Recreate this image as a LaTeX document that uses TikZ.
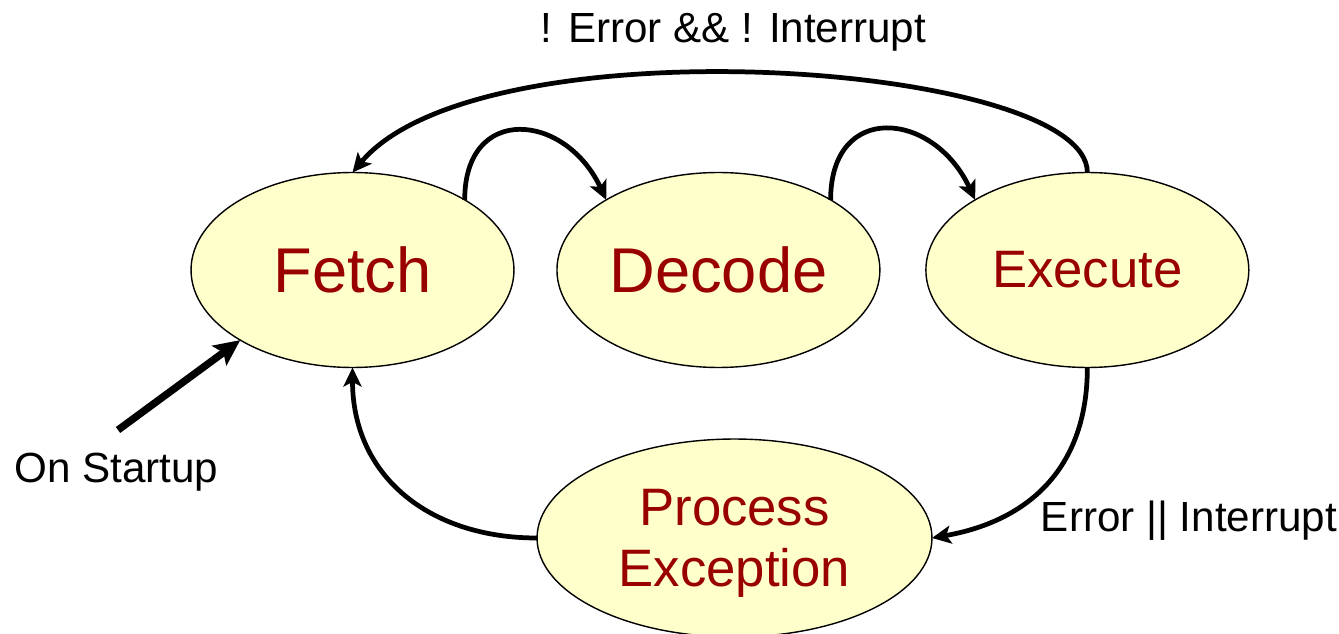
\documentclass[tikz,border=0pt]{standalone}
\usepackage{fontspec}
\setmainfont{Liberation Sans}
\usetikzlibrary{positioning,arrows.meta,shapes.geometric}
\definecolor{statefill}{HTML}{FFFFCC}
\definecolor{statetext}{HTML}{990000}

\begin{document}
\begin{tikzpicture}[x=0.02cm,y=0.02cm,
    state/.style={draw,ellipse,line width=0.8pt,fill=statefill,text=statetext,inner sep=0pt,outer sep=0pt,minimum width=6.46cm,minimum height=3.9cm},
    trans/.style={line width=2.7pt,-{Stealth[length=0.38cm,width=0.36cm,inset=0.09cm]}},
    lbl/.style={font=\fontsize{24}{28}\selectfont}]
  \useasboundingbox (0,0) rectangle (1339,633);
  \node[state,font=\fontsize{36}{40}\selectfont] (fetch) at (352.5,363) {Fetch};
  \node[state,font=\fontsize{36}{40}\selectfont,right=0.86cm of fetch] (decode) {Decode};
  \node[state,font=\fontsize{30}{34}\selectfont,right=0.92cm of decode] (execute) {Execute};
  \node[state,font=\fontsize{30}{35}\selectfont,align=center,text height=2.17cm,minimum width=7.9cm,minimum height=3.96cm] (process) at (734.5,95) {Process\\Exception};
  % loops along the top
  \draw[trans] (fetch.32) to[out=90,in=115,looseness=1.75] (decode.148);
  \draw[trans] (decode.32) to[out=90,in=115,looseness=1.75] (execute.148);
  \draw[trans] (execute.north) .. controls +(0,110) and +(128,153) .. (fetch.north);
  \node[lbl,anchor=base] (looplbl) at (733.5,590) {! Error \&\& ! Interrupt};
  % exception path
  \draw[trans] (execute.south) to[out=-90,in=10,looseness=1.1] (process.east);
  \draw[trans] (process.west) to[out=180,in=-90,looseness=1.1] (fetch.south);
  \node[lbl,anchor=base] (faultlbl) at (1189,102) {Error || Interrupt};
  % start
  \coordinate (boot) at (118,203);
  \draw[line width=4.2pt,-{Stealth[length=0.52cm,width=0.48cm,inset=0.1cm]}] (boot) -- (fetch.212);
  \node[lbl,anchor=base] (bootlbl) at (116.5,151) {On Startup};
\end{tikzpicture}
\end{document}
